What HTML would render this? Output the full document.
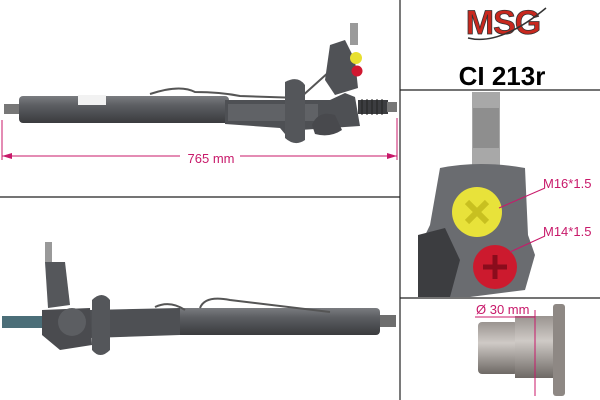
<!DOCTYPE html>
<html><head><style>
html,body{margin:0;padding:0;background:#fff;}
svg{display:block}
text{font-family:"Liberation Sans",sans-serif}
</style></head><body>
<svg width="600" height="400" viewBox="0 0 600 400" xmlns="http://www.w3.org/2000/svg">
<defs>
<linearGradient id="tube" x1="0" y1="0" x2="0" y2="1">
<stop offset="0" stop-color="#7a7c80"/><stop offset="0.35" stop-color="#5c5e62"/><stop offset="1" stop-color="#3a3b3e"/></linearGradient>
<linearGradient id="cyl" x1="0" y1="0" x2="0" y2="1">
<stop offset="0" stop-color="#9a9490"/><stop offset="0.4" stop-color="#cfcac6"/><stop offset="1" stop-color="#6e6965"/></linearGradient>
</defs>
<rect width="600" height="400" fill="#fff"/>
<line x1="400" y1="0" x2="400" y2="400" stroke="#222" stroke-width="1.2"/>
<line x1="0" y1="197" x2="400" y2="197" stroke="#222" stroke-width="1.2"/>
<line x1="400" y1="90" x2="600" y2="90" stroke="#222" stroke-width="1.2"/>
<line x1="400" y1="298" x2="600" y2="298" stroke="#222" stroke-width="1.2"/>

<!-- TOP RACK -->
<rect x="4" y="104" width="16" height="10" fill="#777"/>
<rect x="19" y="96" width="210" height="27" rx="4" fill="url(#tube)"/>
<path d="M150 94 Q180 84 195 92 Q220 92 240 96 L300 98 Q320 80 340 62" stroke="#555" stroke-width="2" fill="none"/>
<path d="M225 100 L330 100 L345 93 L355 97 L360 126 L330 128 L300 130 L290 140 L280 128 L225 124 Z" fill="#4e5054"/>
<rect x="228" y="104" width="90" height="17" fill="#606266"/>
<path d="M285 82 Q298 75 305 85 L305 140 Q295 147 285 138 Z" fill="#54565a"/>
<path d="M330 45 L345 40 L355 60 L358 88 L335 95 L325 80 Z" fill="#505256"/>
<rect x="350" y="23" width="8" height="22" fill="#9a9a9a"/>
<circle cx="356" cy="58" r="6" fill="#e8e030"/>
<circle cx="357" cy="71" r="5.5" fill="#d01830"/>
<path d="M312 125 Q318 110 335 115 L342 130 Q330 138 315 134 Z" fill="#48494d"/>
<rect x="358" y="100" width="30" height="14" fill="#3c3d40"/>
<g stroke="#222" stroke-width="1">
<line x1="362" y1="99" x2="362" y2="115"/><line x1="367" y1="99" x2="367" y2="115"/><line x1="372" y1="99" x2="372" y2="115"/><line x1="377" y1="99" x2="377" y2="115"/><line x1="382" y1="99" x2="382" y2="115"/></g>
<rect x="387" y="102" width="10" height="10" fill="#777"/>
<rect x="78" y="95" width="28" height="10" fill="#f2f2f2"/>
<line x1="2" y1="120" x2="2" y2="160" stroke="#c8196a" stroke-width="1"/>
<line x1="397" y1="118" x2="397" y2="160" stroke="#c8196a" stroke-width="1"/>
<line x1="2" y1="156" x2="180" y2="156" stroke="#c8196a" stroke-width="1"/>
<line x1="240" y1="156" x2="397" y2="156" stroke="#c8196a" stroke-width="1"/>
<path d="M2 156 L12 153 L12 159 Z M397 156 L387 153 L387 159 Z" fill="#c8196a"/>
<text x="211" y="163" font-size="13" fill="#c8196a" text-anchor="middle">765 mm</text>

<!-- BOTTOM RACK -->
<rect x="2" y="316" width="42" height="12" fill="#4b6e78"/>
<rect x="378" y="315" width="18" height="12" fill="#6e6e6e"/>
<rect x="175" y="308" width="205" height="27" rx="4" fill="url(#tube)"/>
<path d="M155 307 Q170 300 185 310 M200 308 Q205 295 230 300 L330 312" stroke="#555" stroke-width="2" fill="none"/>
<path d="M90 310 L180 308 L180 335 L90 338 Z" fill="#4e5054"/>
<path d="M92 300 Q102 290 110 300 L110 350 Q100 360 92 350 Z" fill="#54565a"/>
<path d="M42 310 L90 308 L92 345 L60 350 L42 335 Z" fill="#4a4b4f"/>
<circle cx="72" cy="322" r="14" fill="#5c5e62"/>
<path d="M45 262 L65 262 L70 305 L48 308 Z" fill="#55575b"/>
<rect x="45" y="242" width="7" height="20" fill="#999"/>

<!-- RIGHT TOP -->
<text x="503" y="34" font-size="34" font-weight="bold" fill="#c8281e" stroke="#333" stroke-width="0.8" text-anchor="middle" letter-spacing="-1">MSG</text>
<path d="M468 38 Q500 46 546 8" stroke="#333" stroke-width="1.5" fill="none"/>
<text x="502" y="85" font-size="26" font-weight="bold" fill="#000" text-anchor="middle">CI 213r</text>

<!-- RIGHT MIDDLE -->
<rect x="472" y="92" width="28" height="75" fill="#a8a8a8"/>
<rect x="473" y="108" width="26" height="40" fill="#8e8e8e"/>
<path d="M440 168 Q480 160 525 168 L528 235 L535 255 L525 290 L470 297 L418 297 L418 250 L430 225 Z" fill="#6a6c70"/>
<path d="M418 235 L445 228 L460 260 L450 297 L418 297 Z" fill="#3c3d40"/>
<circle cx="477" cy="212" r="25" fill="#e8e23a"/>
<path d="M467 202 L487 222 M487 202 L467 222" stroke="#c8c020" stroke-width="6"/>
<circle cx="495" cy="267" r="22" fill="#cc1a2e"/>
<path d="M495 255 L495 279 M483 267 L507 267" stroke="#8a0c1c" stroke-width="5"/>
<line x1="499" y1="208" x2="545" y2="188" stroke="#c8196a" stroke-width="1"/>
<line x1="510" y1="252" x2="545" y2="236" stroke="#c8196a" stroke-width="1"/>
<text x="543" y="188" font-size="13" fill="#c8196a">M16*1.5</text>
<text x="543" y="236" font-size="13" fill="#c8196a">M14*1.5</text>

<!-- RIGHT BOTTOM -->
<rect x="478" y="322" width="40" height="52" rx="4" fill="url(#cyl)"/>
<rect x="515" y="316" width="40" height="62" fill="url(#cyl)"/>
<rect x="553" y="304" width="12" height="92" rx="3" fill="#8e8884"/>
<line x1="475" y1="317" x2="535" y2="317" stroke="#c8196a" stroke-width="1"/>
<line x1="535" y1="310" x2="535" y2="396" stroke="#c8196a" stroke-width="1"/>
<text x="476" y="314" font-size="13" fill="#c8196a">Ø 30 mm</text>
</svg>
</body></html>
